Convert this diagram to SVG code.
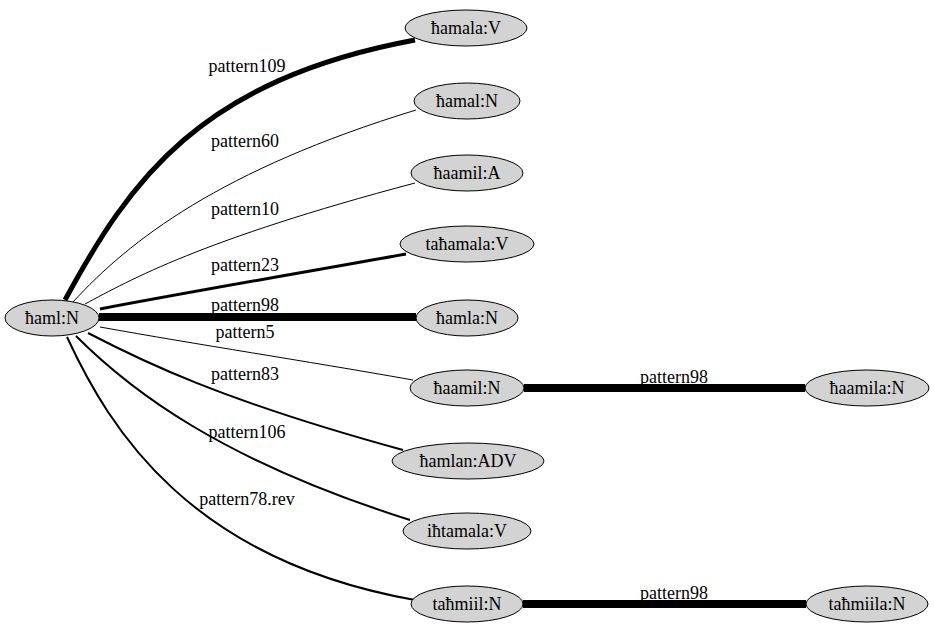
<svg xmlns="http://www.w3.org/2000/svg" width="934" height="635" viewBox="0 0 934 635" font-family="'Liberation Serif', 'Times New Roman', 'DejaVu Serif', serif">
<style>
.n ellipse{fill:#d3d3d3;stroke:#000;stroke-width:1}
text{font-family:'Liberation Serif','Times New Roman','DejaVu Serif',serif;font-size:18px;fill:#000;text-anchor:middle}
.e path{fill:none;stroke:#000}
</style>
<rect width="934" height="635" fill="#fff"/>
<g id="edges" class="e">
<path d="M65,300 C130,180 200,80 415,40" stroke-width="5"/>
<path d="M73,302 C130,240 220,170 416,110" stroke-width="1"/>
<path d="M85,304 C130,280 200,240 415,183" stroke-width="1"/>
<path d="M100,309 C200,290 300,273 406,254" stroke-width="3"/>
<path d="M99,317 L416,317" stroke-width="8"/>
<path d="M100,327 C200,345 300,360 413,380" stroke-width="1"/>
<path d="M88,333 C140,360 220,400 403,450" stroke-width="2"/>
<path d="M76,336 C130,390 220,460 410,520" stroke-width="2"/>
<path d="M67,337 C110,430 190,560 415,600" stroke-width="2"/>
<path d="M524,388 L805,388" stroke-width="8"/>
<path d="M523,604 L806,604" stroke-width="8"/>
<text x="247" y="72">pattern109</text>
<text x="245" y="147">pattern60</text>
<text x="245" y="215">pattern10</text>
<text x="245" y="271">pattern23</text>
<text x="245" y="311">pattern98</text>
<text x="245" y="338">pattern5</text>
<text x="245" y="380">pattern83</text>
<text x="247" y="438">pattern106</text>
<text x="247" y="505">pattern78.rev</text>
<text x="674" y="383">pattern98</text>
<text x="674" y="599">pattern98</text>
</g>
<g id="n_hamlN" class="n"><ellipse cx="52" cy="318" rx="47" ry="18"/><text x="52" y="324">ħaml:N</text></g>
<g id="n_hamalaV" class="n"><ellipse cx="466" cy="28" rx="61" ry="18"/><text x="466" y="34">ħamala:V</text></g>
<g id="n_hamalN" class="n"><ellipse cx="467" cy="101" rx="53" ry="18"/><text x="467" y="107">ħamal:N</text></g>
<g id="n_haamilA" class="n"><ellipse cx="467" cy="173" rx="56" ry="18"/><text x="467" y="179">ħaamil:A</text></g>
<g id="n_tahamalaV" class="n"><ellipse cx="467" cy="244" rx="67" ry="18"/><text x="467" y="250">taħamala:V</text></g>
<g id="n_hamlaN" class="n"><ellipse cx="467" cy="318" rx="51" ry="18"/><text x="467" y="324">ħamla:N</text></g>
<g id="n_haamilN" class="n"><ellipse cx="467" cy="388" rx="57" ry="18"/><text x="467" y="394">ħaamil:N</text></g>
<g id="n_hamlanADV" class="n"><ellipse cx="468" cy="461" rx="76" ry="18"/><text x="468" y="467">ħamlan:ADV</text></g>
<g id="n_ihtamalaV" class="n"><ellipse cx="467" cy="531" rx="64" ry="18"/><text x="467" y="537">iħtamala:V</text></g>
<g id="n_tahmiilN" class="n"><ellipse cx="467" cy="604" rx="56" ry="18"/><text x="467" y="610">taħmiil:N</text></g>
<g id="n_haamilaN" class="n"><ellipse cx="867" cy="388" rx="62" ry="18"/><text x="867" y="394">ħaamila:N</text></g>
<g id="n_tahmiilaN" class="n"><ellipse cx="867" cy="604" rx="61" ry="18"/><text x="867" y="610">taħmiila:N</text></g>
</svg>
